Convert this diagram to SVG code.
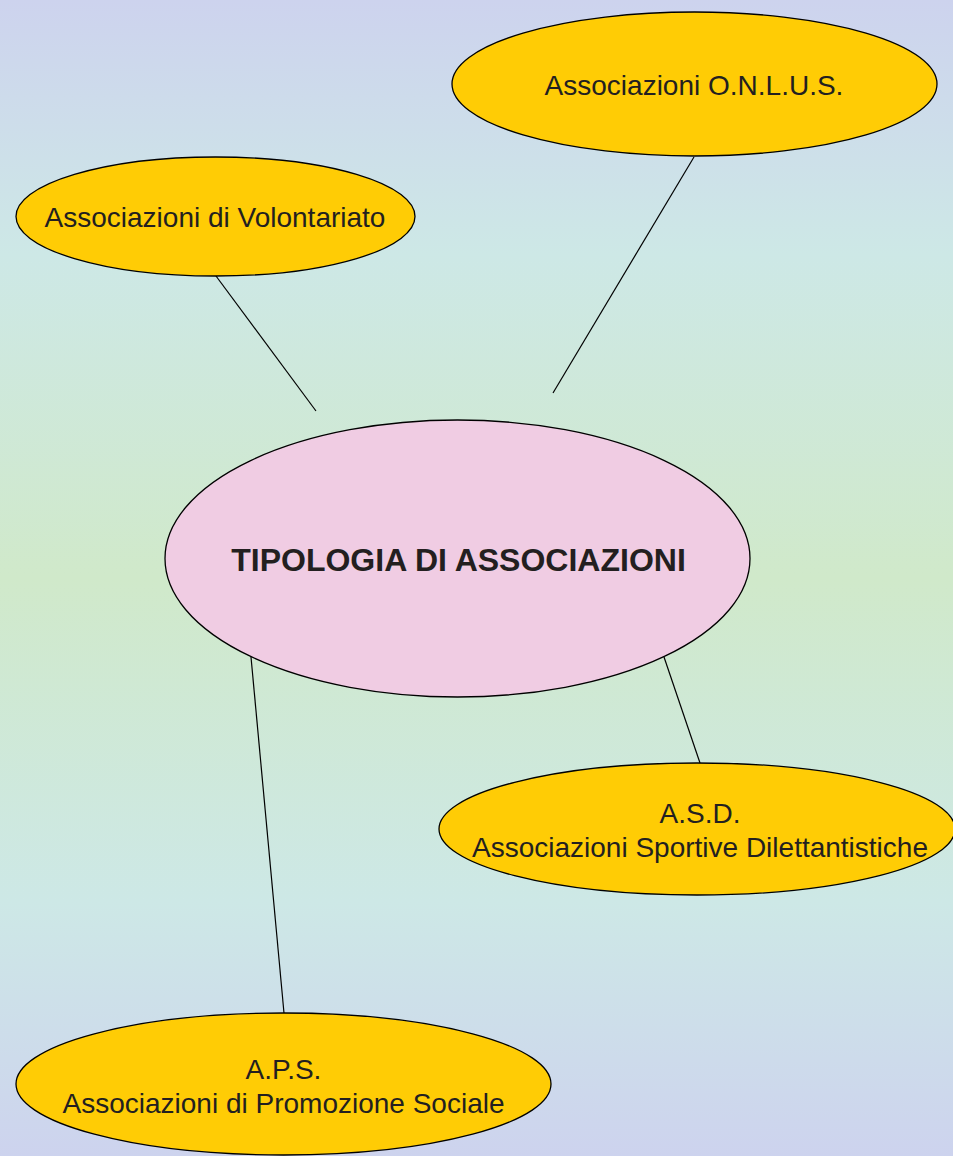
<svg xmlns="http://www.w3.org/2000/svg" width="953" height="1156" viewBox="0 0 953 1156">
<defs>
<linearGradient id="bg" x1="0" y1="0" x2="0" y2="1">
<stop offset="0" stop-color="#cdd3ee"/>
<stop offset="0.22" stop-color="#cde8e6"/>
<stop offset="0.5" stop-color="#d0e9ca"/>
<stop offset="0.78" stop-color="#cde8e6"/>
<stop offset="1" stop-color="#cdd3ee"/>
</linearGradient>
</defs>
<style>
.sat{fill:#ffcc05;stroke:#000;stroke-width:1.3}
.ctr{fill:#f0cce3;stroke:#000;stroke-width:1.3}
.t{font-family:"Liberation Sans",Arial,sans-serif;font-size:28px;fill:#231f20;text-anchor:middle}
.tb{font-family:"Liberation Sans",Arial,sans-serif;font-size:32px;font-weight:bold;fill:#231f20;text-anchor:middle}
.c line{stroke:#000;stroke-width:1.2}
</style>
<rect width="953" height="1156" fill="url(#bg)"/>
<g class="c" id="connectors">
<line x1="216" y1="276" x2="316" y2="411"/>
<line x1="694" y1="157" x2="553" y2="393"/>
<line x1="664" y1="657" x2="700" y2="763"/>
<line x1="251" y1="657" x2="284" y2="1013"/>
</g>
<g id="onlus">
<ellipse class="sat" cx="694.5" cy="84" rx="242.5" ry="72"/>
<text class="t" x="694" y="95">Associazioni O.N.L.U.S.</text>
</g>
<g id="volontariato">
<ellipse class="sat" cx="215.5" cy="216.5" rx="199.5" ry="59.5"/>
<text class="t" x="215" y="227">Associazioni di Volontariato</text>
</g>
<g id="centrale">
<ellipse class="ctr" cx="457.5" cy="558.5" rx="292.5" ry="138.5"/>
<text class="tb" x="458.5" y="571">TIPOLOGIA DI ASSOCIAZIONI</text>
</g>
<g id="asd">
<ellipse class="sat" cx="697" cy="829" rx="258" ry="66"/>
<text class="t" x="700" y="823">A.S.D.</text>
<text class="t" x="700" y="857">Associazioni Sportive Dilettantistiche</text>
</g>
<g id="aps">
<ellipse class="sat" cx="283.5" cy="1084" rx="267.5" ry="71"/>
<text class="t" x="283.5" y="1079">A.P.S.</text>
<text class="t" x="283.5" y="1113">Associazioni di Promozione Sociale</text>
</g>
</svg>
